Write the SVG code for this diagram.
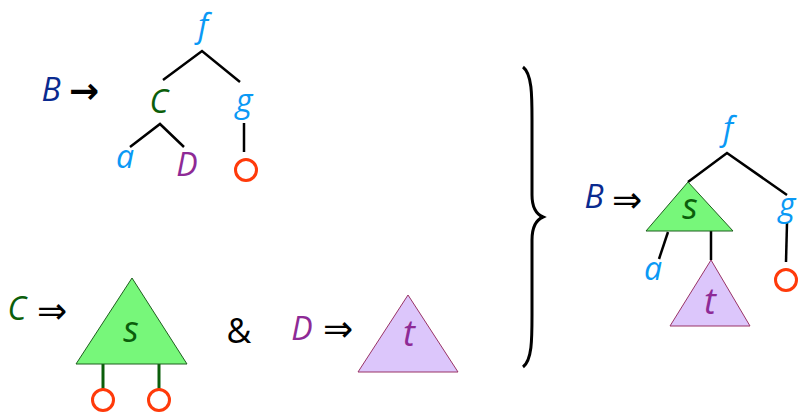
<svg xmlns="http://www.w3.org/2000/svg" width="798" height="412" viewBox="0 0 798 412">
<style>
text{font-family:"Open Sans","DejaVu Sans",sans-serif;font-style:italic;font-size:32px;text-anchor:middle}
.up{font-style:normal;fill:#000}
.ar{font-family:"DejaVu Sans",sans-serif;font-style:normal;font-size:36px;fill:#000}
.big{font-size:36px}
.lb{fill:#0a99f5}.db{fill:#0a2a8f}.gr{fill:#0b5e0b}.pu{fill:#8e2a96}
.e{stroke:#000;stroke-width:2.5;fill:none}
.st{stroke:#0b5e0b;stroke-width:3;fill:none}
.c{fill:none;stroke:#ff3a0a;stroke-width:3}
.gt{fill:#77f77a;stroke:#1f5e1f;stroke-width:1}
.pt{fill:#dcc6fb;stroke:#993366;stroke-width:1}
</style>
<g id="connectors">
<polyline class="e" points="163,80 202,51 240,82"/>
<polyline class="e" points="130,147 160,124 184,147"/>
<line class="e" x1="244" y1="123" x2="244" y2="152"/>
<line class="st" x1="103" y1="364" x2="103" y2="390"/>
<line class="st" x1="159" y1="364" x2="159" y2="390"/>
<polyline class="e" points="688,182 727,153 787,195"/>
<line class="e" x1="787" y1="223" x2="786" y2="262"/>
<line class="e" x1="668" y1="232" x2="659" y2="259"/>
<line class="e" x1="711" y1="231" x2="711" y2="260"/>
</g>
<g id="rule-top">
<text x="51" y="101" class="db">B</text>
<text x="84" y="103" class="ar" style="font-weight:bold">→</text>
<text x="203" y="37" class="lb">f</text>
<text x="159" y="113" class="gr">C</text>
<text x="244" y="112" class="lb">g</text>
<text x="125" y="168" class="lb">a</text>
<text x="187" y="176" class="pu">D</text>
<circle class="c" cx="246" cy="170" r="10.5"/>
</g>
<g id="rule-C">
<text x="17" y="320" class="gr">C</text>
<text x="52" y="323" class="ar">⇒</text>
<polygon class="gt" points="132,278 76,364 187,364"/>
<text x="131" y="342" class="gr big">s</text>
<circle class="c" cx="103" cy="400" r="10.5"/>
<circle class="c" cx="159" cy="400" r="10.5"/>
</g>
<text id="amp" x="239" y="343" class="up" style="font-size:34px">&amp;</text>
<g id="rule-D">
<text x="302" y="340" class="pu">D</text>
<text x="338" y="341" class="ar">⇒</text>
<polygon class="pt" points="408,295 358,372 458,372"/>
<text x="409" y="346" class="pu big">t</text>
</g>
<path id="brace" d="M523,67 C532,74 532,95 532,120 L532,195 C532,208 536,214 543,217 C536,220 532,226 532,240 L532,315 C532,340 532,360 523,367" fill="none" stroke="#000" stroke-width="3"/>
<g id="result">
<text x="594" y="208" class="db">B</text>
<text x="627" y="212" class="ar">⇒</text>
<text x="728" y="140" class="lb">f</text>
<polygon class="gt" points="688,182 646,231 733,231"/>
<text x="690" y="219" class="gr big">s</text>
<text x="787" y="216" class="lb">g</text>
<circle class="c" cx="786" cy="280" r="10.5"/>
<text x="653" y="280" class="lb">a</text>
<polygon class="pt" points="711,260 670,326 750,326"/>
<text x="710" y="314" class="pu big">t</text>
</g>
</svg>
